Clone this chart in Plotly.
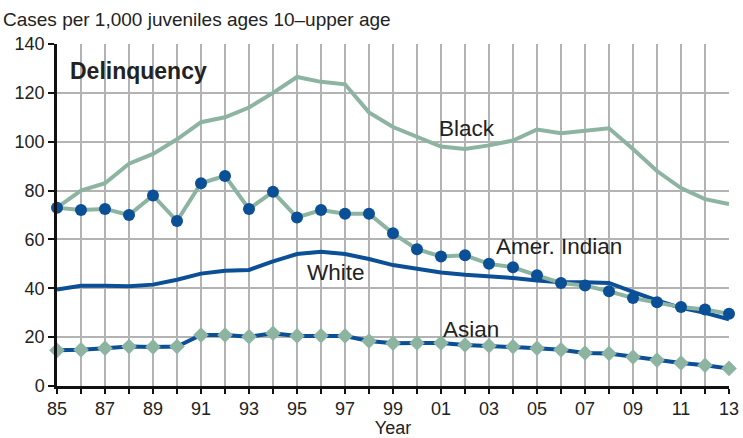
import plotly.graph_objects as go

years = list(range(1985, 2014))
tick_labels = ["85", "87", "89", "91", "93", "95", "97", "99", "01", "03", "05", "07", "09", "11", "13"]

black = [73, 80, 83, 91, 95, 101, 108, 110, 114, 120, 126.5, 124.5, 123.5, 112, 106, 102, 98, 97, 98.5, 100.5,
         105, 103.5, 104.5, 105.5, 97, 88, 81, 76.5, 74.5]
amer_indian = [73, 72, 72.5, 70, 78, 67.5, 83, 86, 72.5, 79.5, 69, 72, 70.5, 70.5, 62.5, 56, 53, 53.5, 50, 48.6,
               45.3, 42.2, 41.1, 38.8, 36, 34.3, 32.3, 31.3, 29.6]
white = [39.5, 41, 41, 40.8, 41.5, 43.5, 46, 47.2, 47.5, 51, 54, 55, 54, 52, 49.5, 48, 46.5, 45.5, 45, 44.2,
         43.2, 42.5, 42.5, 42.2, 38.5, 35, 32, 30, 27.3]
asian = [14.6, 14.8, 15.5, 16.2, 16, 16.2, 20.9, 20.9, 20.2, 21.6, 20.5, 20.6, 20.5, 18.4, 17.5, 17.6, 17.6, 16.8,
         16.5, 16.1, 15.5, 14.8, 13.5, 13.3, 11.9, 10.6, 9.4, 8.5, 7.2]

GREEN = "#8cb4a1"
BLUE = "#0b4f97"
TXT = "#222"
GRID = "#b3b3b3"
FONT = "Liberation Sans, Arial, sans-serif"

fig = go.Figure()
fig.add_trace(go.Scatter(x=years, y=black, mode="lines", line=dict(color=GREEN, width=4), cliponaxis=False))
fig.add_trace(go.Scatter(x=years, y=white, mode="lines", line=dict(color=BLUE, width=4), cliponaxis=False))
fig.add_trace(go.Scatter(x=years, y=amer_indian, mode="lines+markers", line=dict(color=GREEN, width=4),
                         marker=dict(color=BLUE, size=12), cliponaxis=False))
fig.add_trace(go.Scatter(x=years, y=asian, mode="lines+markers", line=dict(color=BLUE, width=4),
                         marker=dict(color=GREEN, size=12, symbol="diamond"), cliponaxis=False))

fig.add_annotation(x=0.016, y=129, xref="paper", yref="y", text="<b>Delinquency</b>", showarrow=False,
                   xanchor="left", yanchor="middle", font=dict(size=23, color=TXT, family=FONT))
for txt, xv, yv in [("Black", 2000.9, 105.4), ("Amer. Indian", 2003.3, 57), ("White", 1995.4, 46.4),
                    ("Asian", 2001.1, 23.2)]:
    fig.add_annotation(x=xv, y=yv, text=txt, showarrow=False, xanchor="left", yanchor="middle",
                       font=dict(size=22.5, color=TXT, family=FONT), xshift=-2)
fig.add_annotation(x=0, y=1.0, xref="paper", yref="paper", text="Cases per 1,000 juveniles ages 10\u2013upper age",
                   showarrow=False, xanchor="left", yanchor="bottom", xshift=-56, yshift=12,
                   font=dict(size=19, color=TXT, family=FONT))

fig.update_xaxes(range=[1985, 2013], tickvals=list(range(1985, 2014, 2)), ticktext=tick_labels,
                 showgrid=True, gridcolor=GRID, gridwidth=2, automargin=False,
                 showline=True, linecolor="#111", linewidth=2.5, ticks="outside", ticklen=5, tickcolor="#111",
                 tickwidth=1.5, tickfont=dict(size=18, color=TXT, family=FONT), zeroline=False,
                 title=dict(text="Year", font=dict(size=18, color=TXT, family=FONT), standoff=2),
                 minor=dict(tickvals=list(range(1986, 2014, 2)), ticks="outside", ticklen=5, tickcolor="#111",
                            tickwidth=1.5, showgrid=True, gridcolor=GRID, gridwidth=2))
fig.update_yaxes(range=[0, 140], tickvals=list(range(0, 141, 20)), showgrid=True, gridcolor=GRID, gridwidth=2,
                 showline=True, linecolor="#111", linewidth=2.5, ticks="outside", ticklen=6, tickcolor="#111",
                 tickwidth=1.5, tickfont=dict(size=18, color=TXT, family=FONT), zeroline=False, automargin=False)

fig.update_layout(width=743, height=438, margin=dict(l=57, r=14, t=44, b=52, autoexpand=False), showlegend=False,
                  plot_bgcolor="white", paper_bgcolor="white", font=dict(family=FONT))
fig.write_html("out.html", config={"displayModeBar": False},
               post_script="document.body.style.margin='0';document.body.style.overflow='hidden';")
